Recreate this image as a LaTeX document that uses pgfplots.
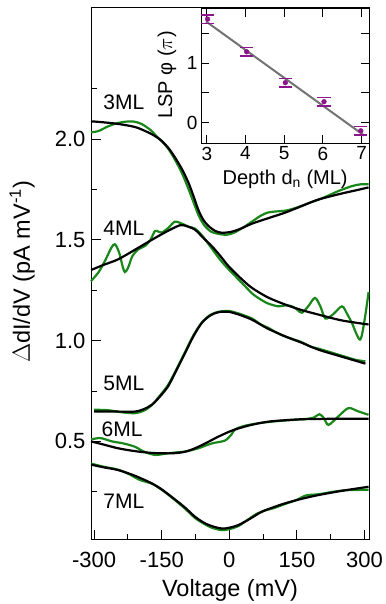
\documentclass[border=0pt]{standalone}
\usepackage{pgfplots}
\pgfplotsset{compat=1.18}
\usepackage{fontspec}
\setmainfont{Liberation Sans}
\definecolor{dgreen}{RGB}{25,135,25}
\definecolor{lsp}{RGB}{140,20,140}
\definecolor{fitgray}{RGB}{115,115,115}
\begin{document}
\begin{tikzpicture}[x=1pt,y=1pt]
\begin{axis}[
  at={(91pt,64pt)}, anchor=south west,
  width=278pt, height=532pt, scale only axis,
  xmin=-307, xmax=310, ymin=0.011, ymax=2.65,
  axis line style={line width=1pt},
  tick align=inside, xtick pos=bottom, ytick pos=left,
  major tick length=10pt, minor tick length=6pt,
  every tick/.style={black, line width=1pt},
  xtick={-300,-150,0,150,300}, minor xtick={-225,-75,75,225},
  ytick={0.5,1.0,1.5,2.0}, yticklabels={0.5,1.0,1.5,2.0},
  minor ytick={0.25,0.75,1.25,1.75,2.25},
  /pgf/number format/assume math mode=true,
  ticklabel style={font=\fontsize{22}{26}\selectfont},
  xticklabel style={yshift=-9pt},
  yticklabel style={xshift=-2pt},
  xlabel={Voltage (mV)},
  ylabel={$\Delta$dI/dV (pA mV\textsuperscript{-1})},
  label style={font=\fontsize{23.5}{28}\selectfont},
  xlabel style={at={(axis description cs:0.5,-0.094)}, anchor=center},
  ylabel style={at={(axis description cs:-0.248,0.504)}, anchor=center},
  clip=false,
]
% 3ML
\addplot[dgreen, line width=2.2pt, smooth] coordinates {
(-307,2.033)(-290,2.040)(-270,2.062)(-250,2.078)(-230,2.086)(-213,2.087)(-195,2.075)(-175,2.045)(-160,2.010)(-150,1.990)(-135,1.950)(-120,1.895)(-105,1.830)(-92,1.760)(-80,1.690)(-68,1.620)(-55,1.570)(-40,1.540)(-25,1.530)(-6,1.525)(10,1.535)(30,1.560)(50,1.590)(70,1.620)(85,1.635)(100,1.640)(125,1.645)(150,1.660)(180,1.685)(210,1.710)(240,1.740)(270,1.765)(290,1.775)(309,1.776)};
\addplot[black, line width=2.2pt, smooth] coordinates {
(-307,2.088)(-280,2.083)(-247,2.075)(-210,2.060)(-187,2.040)(-165,2.015)(-150,1.990)(-135,1.955)(-121,1.910)(-105,1.850)(-91,1.785)(-80,1.720)(-69,1.650)(-58,1.600)(-47,1.570)(-32,1.545)(-17,1.535)(5,1.540)(25,1.555)(50,1.580)(90,1.610)(124,1.635)(160,1.667)(198,1.700)(250,1.730)(280,1.745)(309,1.760)};
% 4ML
\addplot[dgreen, line width=2.2pt, smooth] coordinates {
(-307,1.295)(-290,1.340)(-275,1.400)(-262,1.460)(-254,1.478)(-245,1.440)(-237,1.370)(-232,1.340)(-225,1.360)(-215,1.420)(-202,1.453)(-187,1.470)(-175,1.500)(-165,1.544)(-157,1.540)(-150,1.536)(-135,1.560)(-121,1.590)(-105,1.580)(-90,1.565)(-76,1.555)(-60,1.520)(-40,1.460)(-20,1.400)(0,1.350)(13,1.320)(35,1.270)(50,1.235)(64,1.212)(85,1.185)(109,1.170)(125,1.175)(139,1.170)(150,1.155)(161,1.138)(175,1.170)(190,1.212)(202,1.170)(213,1.110)(230,1.130)(250,1.170)(262,1.130)(272,1.088)(290,1.005)(300,1.100)(309,1.240)};
\addplot[black, line width=2.2pt, smooth] coordinates {
(-307,1.350)(-280,1.375)(-247,1.403)(-210,1.450)(-172,1.500)(-140,1.540)(-110,1.572)(-95,1.568)(-76,1.550)(-58,1.510)(-39,1.469)(-20,1.420)(-2,1.370)(25,1.310)(50,1.262)(85,1.215)(124,1.179)(160,1.152)(198,1.129)(250,1.100)(309,1.080)};
% 5ML
\addplot[dgreen, line width=2.2pt, smooth] coordinates {
(-300,0.657)(-270,0.655)(-240,0.645)(-210,0.640)(-190,0.652)(-172,0.680)(-155,0.725)(-136,0.780)(-118,0.855)(-98,0.945)(-80,1.025)(-61,1.090)(-42,1.128)(-24,1.143)(-2,1.147)(20,1.135)(50,1.110)(70,1.080)(85,1.065)(105,1.040)(124,1.020)(160,0.993)(180,0.970)(198,0.960)(250,0.925)(280,0.905)(302,0.897)};
\addplot[black, line width=2.2pt, smooth] coordinates {
(-300,0.648)(-250,0.648)(-210,0.648)(-190,0.660)(-172,0.682)(-155,0.720)(-136,0.773)(-118,0.850)(-98,0.939)(-80,1.020)(-61,1.088)(-42,1.125)(-24,1.141)(-2,1.143)(20,1.130)(50,1.104)(85,1.060)(124,1.021)(160,0.990)(198,0.955)(250,0.920)(302,0.886)};
% 6ML
\addplot[dgreen, line width=2.2pt, smooth] coordinates {
(-307,0.510)(-295,0.515)(-284,0.516)(-260,0.500)(-235,0.490)(-210,0.474)(-190,0.450)(-165,0.433)(-140,0.440)(-120,0.445)(-98,0.450)(-70,0.465)(-39,0.490)(-10,0.504)(5,0.535)(13,0.560)(35,0.578)(65,0.590)(94,0.598)(130,0.605)(165,0.610)(187,0.618)(200,0.635)(210,0.615)(220,0.582)(240,0.620)(264,0.665)(285,0.650)(309,0.632)};
\addplot[black, line width=2.2pt, smooth] coordinates {
(-307,0.500)(-280,0.485)(-247,0.466)(-210,0.452)(-172,0.443)(-128,0.441)(-100,0.448)(-76,0.466)(-50,0.494)(-24,0.524)(5,0.553)(35,0.574)(65,0.590)(94,0.600)(130,0.606)(161,0.610)(220,0.612)(309,0.612)};
% 7ML
\addplot[dgreen, line width=2.2pt, smooth] coordinates {
(-307,0.390)(-280,0.375)(-247,0.360)(-220,0.335)(-200,0.310)(-172,0.290)(-150,0.260)(-128,0.222)(-100,0.170)(-76,0.120)(-55,0.090)(-39,0.072)(-17,0.060)(0,0.065)(20,0.080)(45,0.118)(60,0.140)(80,0.158)(100,0.170)(124,0.190)(150,0.210)(170,0.232)(198,0.238)(230,0.250)(260,0.258)(309,0.260)};
\addplot[black, line width=2.2pt, smooth] coordinates {
(-307,0.385)(-280,0.372)(-247,0.358)(-210,0.330)(-172,0.292)(-150,0.262)(-128,0.225)(-100,0.175)(-76,0.126)(-55,0.095)(-39,0.080)(-17,0.068)(0,0.072)(20,0.085)(45,0.115)(72,0.151)(100,0.175)(124,0.193)(160,0.215)(198,0.234)(250,0.255)(309,0.275)};
\begin{scope}[font=\fontsize{21}{25}\selectfont]
\node at (axis cs:-234,2.184) {3ML};
\node at (axis cs:-234,1.557) {4ML};
\node at (axis cs:-234,0.786) {5ML};
\node at (axis cs:-238,0.562) {6ML};
\node at (axis cs:-234,0.204) {7ML};
\end{scope}
\end{axis}
\begin{axis}[
  at={(201pt,460.7pt)}, anchor=south west,
  width=168.3pt, height=134.3pt, scale only axis,
  xmin=2.85, xmax=7.2, ymin=-0.35, ymax=1.91,
  axis background/.style={fill=white},
  axis line style={line width=1pt},
  tick align=inside,
  major tick length=8pt,
  every tick/.style={black, line width=1pt},
  xtick={3,4,5,6,7}, ytick={0,0.5,1,1.5}, yticklabels={0,,1,},
  /pgf/number format/assume math mode=true,
  ticklabel style={font=\fontsize{19}{23}\selectfont},
  xlabel={Depth d\textsubscript{n} (ML)},
  ylabel={LSP φ ($\pi$)},
  label style={font=\fontsize{20}{24}\selectfont},
  xlabel style={at={(axis description cs:0.5,-0.268)}, anchor=center},
  ylabel style={at={(axis description cs:-0.202,0.509)}, anchor=center},
]
\addplot[fitgray, line width=2pt] coordinates {(2.98,1.70)(7.07,-0.22)};
% error-bar caps (upper and lower)
\addplot[lsp, only marks, mark=-, mark size=6.7pt, mark options={line width=1.4pt}]
  coordinates {(3.02,1.81)(4.03,1.26)(5.03,0.74)(6.03,0.42)(6.98,-0.07)};
\addplot[lsp, only marks, mark=-, mark size=6.7pt, mark options={line width=1.4pt}]
  coordinates {(3.02,1.67)(4.03,1.12)(5.03,0.60)(6.03,0.28)(6.98,-0.21)};
\addplot[lsp, only marks, mark=*, mark size=2.4pt]
  coordinates {(3.02,1.74)(4.03,1.19)(5.03,0.67)(6.03,0.35)(6.98,-0.14)};
\end{axis}
\pgfresetboundingbox
\path (0,0) rectangle (385,604);
\end{tikzpicture}
\end{document}
